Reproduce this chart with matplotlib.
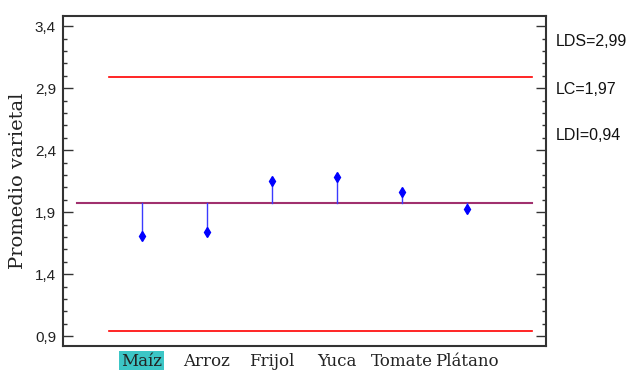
import matplotlib
matplotlib.use("Agg")
import matplotlib.pyplot as plt
from matplotlib.ticker import MultipleLocator

categories = ["Maíz", "Arroz", "Frijol", "Yuca", "Tomate", "Plátano"]
means = [1.71, 1.74, 2.155, 2.185, 2.062, 1.928]
LDS = 2.99
LC = 1.97
LDI = 0.94
limit_labels = ["LDS=2,99", "LC=1,97", "LDI=0,94"]
yticks = [0.9, 1.4, 1.9, 2.4, 2.9, 3.4]
yticklabels = ["0,9", "1,4", "1,9", "2,4", "2,9", "3,4"]

narrow = ["Liberation Sans"]

fig = plt.figure(figsize=(6.32, 3.70), dpi=100)
ax = fig.add_axes([63/632, 1-346/370, (546-63)/632, (346-16)/370])

x = list(range(1, len(categories)+1))
ax.plot([0.5, 7.0], [LDS, LDS], color="#ff0000", lw=1.2)
ax.plot([0.5, 7.0], [LDI, LDI], color="#ff0000", lw=1.2)
ax.plot([0.0, 7.0], [LC, LC], color="#a0306e", lw=1.5)
for xi, m in zip(x, means):
    ax.plot([xi, xi], [LC, m], color="#3a3aff", lw=1.0)
ax.plot(x, means, linestyle="none", marker="d", color="#0000ff", markersize=5)

ax.set_xlim(-0.215, 7.215)
ax.set_ylim(0.82, 3.483)
ax.set_yticks(yticks)
ax.set_yticklabels(yticklabels, fontfamily=narrow, fontsize=11, color="#222222")
ax.yaxis.set_minor_locator(MultipleLocator(0.1))
ax.tick_params(axis="y", which="major", direction="in", length=7, width=1, color="#333333",
               right=True, pad=5)
ax.tick_params(axis="y", which="minor", direction="in", length=3, width=1, color="#333333", right=True)

ax.set_xticks(x)
ax.set_xticklabels(categories, fontfamily="DejaVu Serif", fontsize=12, color="#222222")
ax.tick_params(axis="x", length=0, pad=5)
ax.get_xticklabels()[0].set_bbox(dict(facecolor="#3cc6c6", edgecolor="none", pad=1.5))

for s in ax.spines.values():
    s.set_color("#333333")
    s.set_linewidth(1.5)

ax.set_ylabel("Promedio varietal", fontfamily="DejaVu Serif", fontsize=14, color="#222222")
ax.yaxis.set_label_coords(-0.075, 0.5)

for lbl, ypx in zip(limit_labels, [42, 90, 136]):
    fig.text(556/632, 1-ypx/370, lbl, ha="left", va="center", fontsize=11.5,
             family=narrow, color="#111111")

fig.savefig("out.png", dpi=100)
